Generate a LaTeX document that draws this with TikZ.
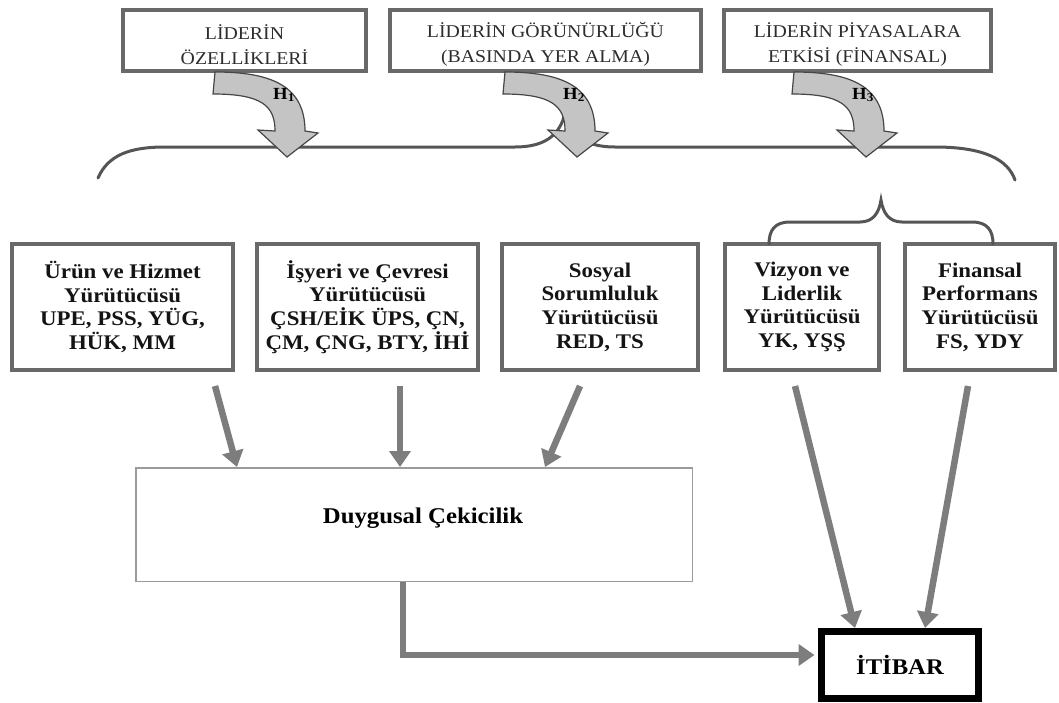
\documentclass[tikz,border=0pt]{standalone}
\usepackage{fontspec}
\setmainfont{Liberation Serif}[FakeStretch=1.1]
\usetikzlibrary{arrows.meta}

\definecolor{boxline}{RGB}{105,105,105}
\definecolor{flowgray}{RGB}{125,125,125}
\definecolor{bracegray}{RGB}{85,85,85}
\definecolor{bendfill}{RGB}{196,196,196}
\definecolor{bendline}{RGB}{70,70,70}
\definecolor{thinline}{RGB}{155,155,155}
\definecolor{topink}{RGB}{45,45,45}

\tikzset{
  topbox/.style={draw=boxline, line width=4pt, fill=white, inner sep=0pt},
  toptext/.style={align=center, inner sep=0pt, text=topink,
    font=\fontsize{18}{25}\selectfont},
  drvbox/.style={draw=boxline, line width=4pt, fill=white, align=center,
    inner sep=0pt, text=black!92, font=\fontsize{20.8}{23.7}\selectfont\bfseries},
  emobox/.style={draw=thinline, line width=1.5pt, fill=white, inner sep=0pt},
  emotext/.style={inner sep=0pt, font=\fontsize{22.5}{26}\selectfont\bfseries},
  repbox/.style={draw=black, line width=7pt, fill=white, align=center,
    inner sep=0pt, font=\fontsize{22.4}{26}\selectfont\bfseries},
  flow/.style={draw=flowgray, line width=6.5pt,
    -{Triangle[length=16pt,width=21pt]}},
  bracepath/.style={draw=bracegray, line width=3pt, line cap=round},
  bendarrow/.style={fill=bendfill, draw=bendline, line width=1.2pt, line join=miter},
  hlabel/.style={font=\fontsize{17}{17}\selectfont\bfseries, inner sep=0pt}
}

% curved block arrow from a leader box down onto the brace
\newcommand\leaderarrow[3]{%
  \begin{scope}[xshift=#1pt]
    \path[bendarrow] (215,72) .. controls (268,72) and (305,84) .. (305,131)
      -- (318,133) -- (287,157) -- (258,130) -- (275,131)
      .. controls (275,106) and (262,94) .. (213,94) -- cycle;
    \node[hlabel] (#2) at (284,95) {H\textsubscript{#3}};
  \end{scope}}

\begin{document}
\begin{tikzpicture}[x=1pt, y=-1pt]
  \useasboundingbox (0,0) rectangle (1059,702);

  % leader boxes
  \node[topbox, minimum width=243pt, minimum height=61pt] (lead1) at (244.5,40.5) {};
  \node[toptext] (lead1t) at ([yshift=-4pt]lead1.center) {LİDERİN\\ÖZELLİKLERİ};
  \node[topbox, minimum width=311pt, minimum height=61pt] (lead2) at (545.5,40.5) {};
  \node[toptext] (lead2t) at ([yshift=-4pt]lead2.center)
    {LİDERİN GÖRÜNÜRLÜĞÜ\\(BASINDA YER ALMA)};
  \node[topbox, minimum width=267pt, minimum height=61pt] (lead3) at (857.5,40.5) {};
  \node[toptext] (lead3t) at ([yshift=-4pt]lead3.center)
    {LİDERİN PİYASALARA\\ETKİSİ (FİNANSAL)};

  % long brace over all drivers
  \path[bracepath] (98,178) .. controls (108,155) and (130,147) .. (165,147)
    -- (515,147) .. controls (545,147) and (560,135) .. (565,113)
    .. controls (570,135) and (585,147) .. (615,147)
    -- (935,147) .. controls (985,147) and (1008,160) .. (1015,180);

  % curved arrows H1, H2, H3
  \leaderarrow{0}{h1}{1}
  \leaderarrow{290}{h2}{2}
  \leaderarrow{579}{h3}{3}

  % driver boxes
  \node[drvbox, minimum width=221pt, minimum height=126pt] (urun) at (122.5,307)
    {Ürün ve Hizmet\\Yürütücüsü\\UPE, PSS, YÜG,\\HÜK, MM};
  \node[drvbox, minimum width=221pt, minimum height=126pt] (isyeri) at (367.5,307)
    {İşyeri ve Çevresi\\Yürütücüsü\\ÇSH/EİK ÜPS, ÇN,\\ÇM, ÇNG, BTY, İHİ};
  \node[drvbox, minimum width=196pt, minimum height=126pt] (sosyal) at (600,307)
    {Sosyal\\Sorumluluk\\Yürütücüsü\\RED, TS};
  \node[drvbox, minimum width=154pt, minimum height=126pt] (vizyon) at (802,307)
    {Vizyon ve\\Liderlik\\Yürütücüsü\\YK, YŞŞ};
  \node[drvbox, minimum width=150pt, minimum height=126pt] (finans) at (980,307)
    {Finansal\\Performans\\Yürütücüsü\\FS, YDY};

  % small brace over the last two drivers
  \path[bracepath] (769,244) .. controls (769,230) and (775,222) .. (790,222)
    -- (860,222) .. controls (873,222) and (879,213) .. (881,200)
    .. controls (883,213) and (889,222) .. (902,222)
    -- (972,222) .. controls (987,222) and (993,230) .. (993,244);

  % emotional appeal and reputation
  \node[emobox, minimum width=556.5pt, minimum height=113.5pt] (duygu) at (414,524.5) {};
  \node[emotext] (duygut) at (423,518) {Duygusal Çekicilik};
  \node[repbox, minimum width=157pt, minimum height=67pt] (itibar) at (900,665)
    {İTİBAR};

  % flow arrows
  \coordinate (s1) at (215,386);
  \coordinate (e1) at (237,467);
  \coordinate (s2) at (400,386);
  \coordinate (e2) at (400,467);
  \coordinate (s3) at (580,386);
  \coordinate (e3) at (545,467);
  \coordinate (s4) at (795,386);
  \coordinate (e4) at (855,628);
  \coordinate (s5) at (968,386);
  \coordinate (e5) at (925,628);
  \coordinate (knee) at (403,655);

  \draw[flow] (s1) -- (e1);
  \draw[flow] (s2) -- (e2);
  \draw[flow] (s3) -- (e3);
  \draw[flow] (s4) -- (e4);
  \draw[flow] (s5) -- (e5);
  \draw[flow, line width=6pt] (duygu.south -| knee) -- (knee)
    -- ([xshift=-3.5pt]itibar.west |- knee);
\end{tikzpicture}
\end{document}
